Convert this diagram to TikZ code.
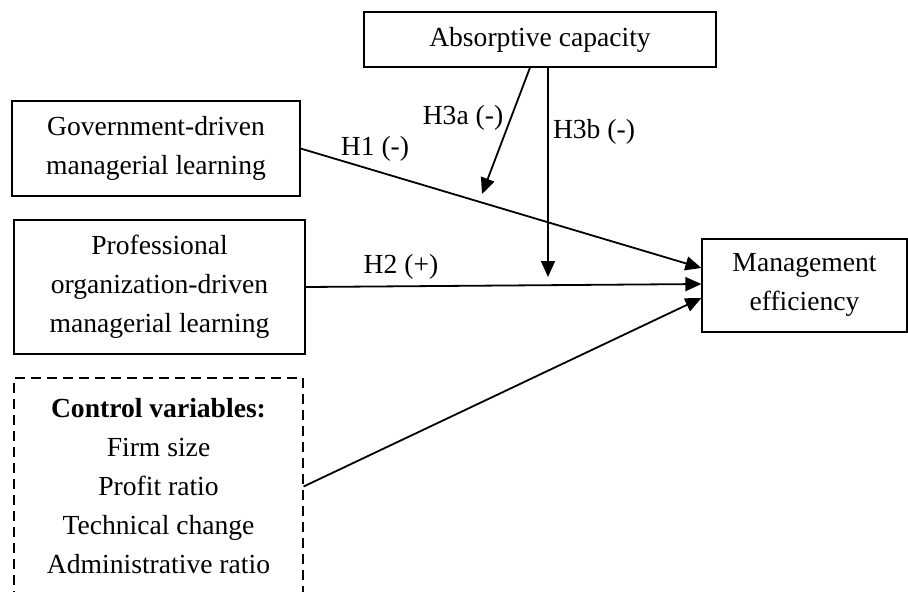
\documentclass[tikz,border=0pt]{standalone}
\usepackage{fontspec}
\setmainfont{Liberation Serif}
\usetikzlibrary{arrows.meta}

\begin{document}
\begin{tikzpicture}[x=0.5pt, y=-0.5pt,
        every node/.style={font=\fontsize{13.8}{19.5}\selectfont, align=center, inner sep=0pt},
        var/.style={draw, line width=0.6pt},
        ctrlbox/.style={draw, dashed, dash pattern=on 5pt off 3pt, line width=0.6pt},
        path/.style={line width=0.9pt, -{Triangle[length=8pt, width=7pt]}}]
                \useasboundingbox (0,0) rectangle (908,591);
                \clip (0,0) rectangle (908,591);
                \node[var, minimum width=176pt, minimum height=27.5pt] (absorb) at (540,39.5) {Absorptive capacity};
                \node[var, minimum width=144pt, minimum height=47.5pt] (gov) at (156,148.5) {Government-driven\\managerial learning};
                \node[var, minimum width=145.5pt, minimum height=67pt] (prof) at (159.5,287) {Professional\\organization-driven\\managerial learning};
                \node[ctrlbox, minimum width=144.5pt, minimum height=108.5pt] (ctrl) at (158.5,486.5) {\textbf{Control variables:}\\Firm size\\Profit ratio\\Technical change\\Administrative ratio};
                \node[var, minimum width=102.5pt, minimum height=46.5pt, text depth=4pt] (mgmt) at (804.5,285.5) {Management\\efficiency};
                \coordinate (h3a) at (482,194);
                \coordinate (h3b) at (548,277);
                \draw[path] (gov.east) -- ([yshift=8.75pt]mgmt.west);
                \draw[path] (prof.east) -- ([yshift=0.75pt]mgmt.west);
                \draw[path] (ctrl.east) -- ([yshift=-6.25pt]mgmt.west);
                \draw[path] ([xshift=-5pt]absorb.south) -- (h3a);
                \draw[path] ([xshift=4pt]absorb.south) -- (h3b);
                \node (l1) at (375,149) {H1 (-)};
                \node (l2) at (401,267) {H2 (+)};
                \node (l3a) at (463,118) {H3a (-)};
                \node (l3b) at (594,132) {H3b (-)};
            \end{tikzpicture}
\end{document}
